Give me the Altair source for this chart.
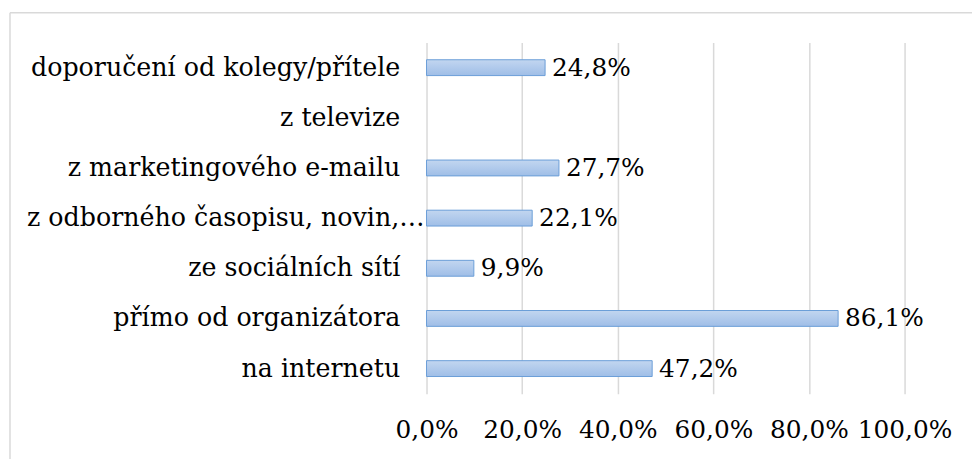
import altair as alt
import pandas as pd

categories = [
    "doporučení od kolegy/přítele",
    "z televize",
    "z marketingového e-mailu",
    "z odborného časopisu, novin,…",
    "ze sociálních sítí",
    "přímo od organizátora",
    "na internetu",
]
values = [24.8, None, 27.7, 22.1, 9.9, 86.1, 47.2]
x_ticks = [0, 20, 40, 60, 80, 100]
truncated_label = "z odborného časopisu, novin,…"

df = pd.DataFrame({"cat": categories, "val": values})
df["label"] = df["val"].map(lambda v: "" if pd.isna(v) else f"{v:.1f}%".replace(".", ","))

FONT = "DejaVu Serif"
GRID = "#d9d9d9"

y_enc = alt.Y(
    "cat:N",
    sort=categories,
    title=None,
    scale=alt.Scale(domain=categories, paddingInner=0.684, paddingOuter=0.342),
    axis=alt.Axis(
        domain=False, ticks=False, grid=False,
        labelFont=FONT, labelFontSize=25.5, labelColor="#000000",
        labelPadding=27, labelLimit=0, labelOverlap=False,
        labelExpr=f"datum.value == '{truncated_label}' ? '' : datum.value",
    ),
)
x_enc = alt.X(
    "val:Q",
    title=None,
    scale=alt.Scale(domain=[0, 100], nice=False),
    axis=alt.Axis(
        values=x_ticks, domain=False, ticks=False,
        grid=True, gridColor=GRID, gridWidth=1.5,
        labelFont=FONT, labelFontSize=25, labelColor="#000000",
        labelPadding=24, labelOverlap=False, labelFlush=False,
        labelExpr="replace(format(datum.value, '.1f'), '.', ',') + '%'",
    ),
)

grad = alt.Gradient(
    gradient="linear",
    stops=[
        alt.GradientStop(color="#c2d6f0", offset=0),
        alt.GradientStop(color="#9fbee7", offset=1),
    ],
    x1=0, x2=0, y1=0, y2=1,
)

base = alt.Chart(df)
bars = base.mark_bar(
    fill=grad, stroke="#6a9ed8", strokeWidth=1
).encode(x=x_enc, y=y_enc, opacity=alt.condition("isValid(datum.val)", alt.value(1), alt.value(0)))

texts = base.transform_filter("isValid(datum.val)").mark_text(
    align="left", baseline="middle", dx=7, font=FONT, fontSize=25, color="#000000"
).encode(x="val:Q", y=alt.Y("cat:N", sort=categories), text="label:N")

long_label = base.transform_filter(f"datum.cat == '{truncated_label}'").mark_text(
    align="right", baseline="middle", dx=-2, font=FONT, fontSize=25.5, color="#000000"
).encode(x=alt.value(0), y=alt.Y("cat:N", sort=categories), text="cat:N")

frame_df = pd.DataFrame({"a": [0]})
frame_left = alt.Chart(frame_df).mark_rule(color=GRID, strokeWidth=1.5).encode(
    x=alt.value(-420), y=alt.value(-30), y2=alt.value(500)
)
frame_top = alt.Chart(frame_df).mark_rule(color=GRID, strokeWidth=1.5).encode(
    x=alt.value(-420), x2=alt.value(600), y=alt.value(-30)
)

chart = (
    alt.layer(frame_left, frame_top, bars, texts, long_label)
    .properties(
        width=482,
        height=354,
        autosize="none",
        padding={"left": 422, "top": 33, "right": 68, "bottom": 64},
        background="white",
    )
    .configure_view(stroke=None)
)

chart.save("out.html", embed_options={"renderer": "svg", "actions": False})
